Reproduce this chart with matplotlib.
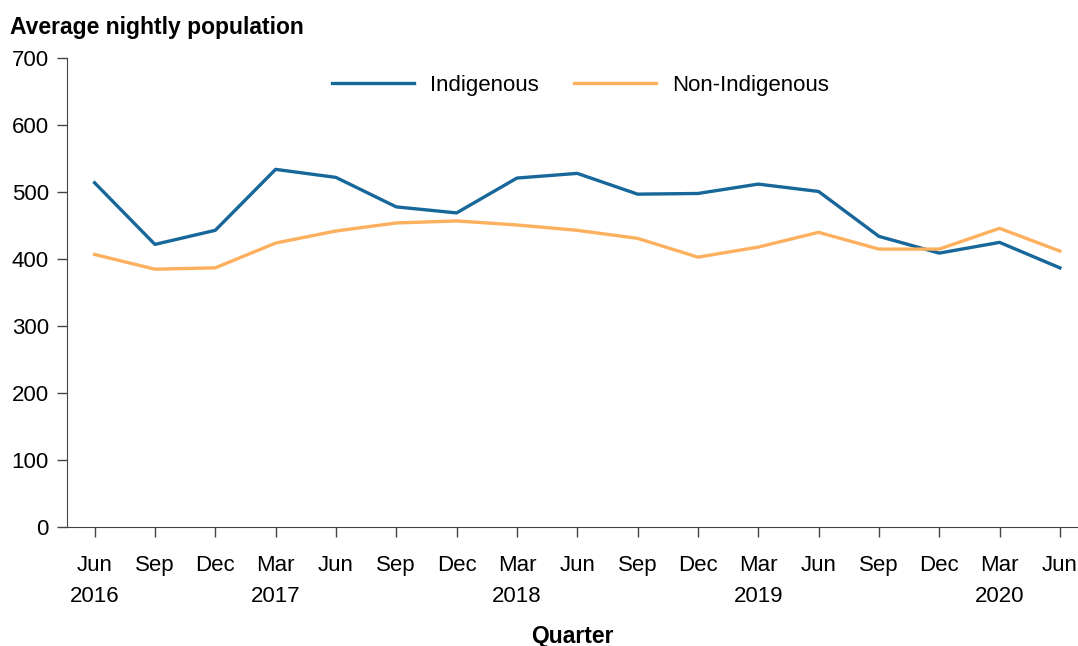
import numpy as np
import matplotlib.pyplot as plt

plt.rcParams['font.family'] = ['Liberation Sans', 'DejaVu Sans']

quarters = ['Jun\n2016', 'Sep', 'Dec', 'Mar\n2017', 'Jun', 'Sep', 'Dec', 'Mar\n2018',
            'Jun', 'Sep', 'Dec', 'Mar\n2019', 'Jun', 'Sep', 'Dec', 'Mar\n2020', 'Jun']
indigenous = [514, 422, 443, 534, 522, 478, 469, 521, 528, 497, 498, 512, 501, 434, 409, 425, 387]
non_indigenous = [407, 385, 387, 424, 442, 454, 457, 451, 443, 431, 403, 418, 440, 415, 415, 446, 412]

x = np.arange(len(quarters))

fig = plt.figure(figsize=(10.78, 6.46), dpi=100)
ax = fig.add_axes([0.062, 0.184, 0.938, 0.726])

ax.plot(x, indigenous, color='#17679a', lw=2.4, label='Indigenous')
ax.plot(x, non_indigenous, color='#fdb05e', lw=2.4, label='Non-Indigenous')

ax.set_xlim(-0.46, 16.3)
ax.set_ylim(0, 700)
ax.set_yticks(range(0, 701, 100))
ax.set_xticks(x)
ax.set_xticklabels(quarters, linespacing=1.6, va='top')
ax.tick_params(labelsize=16, color='#444444', length=7, width=1)
ax.tick_params(axis='x', pad=13)
ax.tick_params(axis='y', pad=6)
for s in ['top', 'right']:
    ax.spines[s].set_visible(False)
for s in ['left', 'bottom']:
    ax.spines[s].set_color('#444444')

ax.set_xlabel('Quarter', fontsize=16.5, fontweight='bold', labelpad=13)
fig.text(0.009, 0.958, 'Average nightly population', fontsize=16.5, fontweight='bold', va='center')

ax.legend(loc='upper center', bbox_to_anchor=(0.508, 1.007), ncol=2, frameon=False,
          fontsize=16, handlelength=3.7, handletextpad=0.7, columnspacing=1.6)

fig.savefig('out.png', dpi=100)
